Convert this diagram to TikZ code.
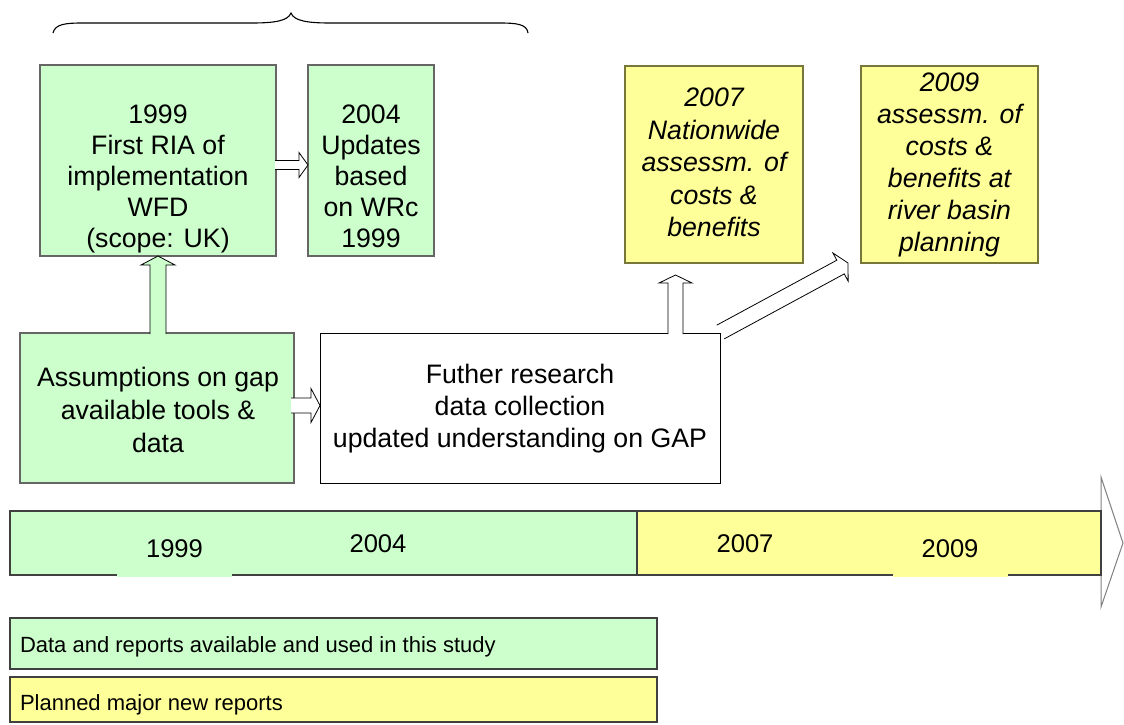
\documentclass[tikz,border=0pt]{standalone}
\usepackage{fontspec}
\setmainfont{Liberation Sans}
\usetikzlibrary{calc}

\definecolor{paleGreen}{HTML}{CCFFCC}
\definecolor{paleYellow}{HTML}{FFFF99}
\definecolor{greenEdge}{HTML}{666666}
\definecolor{yellowEdge}{HTML}{77773A}
\definecolor{barEdge}{HTML}{404040}

% Block arrow from #2 to #3: #1 = fill, #4 = shaft half width,
% #5 = head half width, #6 = head length. The base end is left open.
\newcommand\blockarrow[6]{%
  \coordinate (bahead) at ($(#3)!#6!(#2)$);
  \coordinate (bal1) at ($(#2)!#4!90:(#3)$);
  \coordinate (bar1) at ($(#2)!#4!-90:(#3)$);
  \coordinate (bal2) at ($(bahead)!#4!90:(#3)$);
  \coordinate (bar2) at ($(bahead)!#4!-90:(#3)$);
  \coordinate (bal3) at ($(bahead)!#5!90:(#3)$);
  \coordinate (bar3) at ($(bahead)!#5!-90:(#3)$);
  \fill[#1] (bal1) -- (bal2) -- (bal3) -- (#3) -- (bar3) -- (bar2) -- (bar1) -- cycle;
  \draw[arrowline] (bal1) -- (bal2) -- (bal3) -- (#3) -- (bar3) -- (bar2) -- (bar1);
}

\begin{document}
\begin{tikzpicture}[x=1pt,y=-1pt,
  every node/.style={inner sep=0pt, outer sep=0pt},
  gbox/.style={draw=greenEdge, line width=1.2pt, fill=paleGreen, anchor=north west},
  ybox/.style={draw=yellowEdge, line width=1.2pt, fill=paleYellow, anchor=north west},
  wbox/.style={draw=black, line width=0.9pt, fill=white, anchor=north west},
  barpart/.style={draw=barEdge, line width=1.2pt, anchor=north west},
  legendbox/.style={draw=barEdge, line width=1.2pt, anchor=north west},
  arrowline/.style={draw=black, line width=0.8pt, line join=miter},
  boxtext/.style={align=center, anchor=north, font=\fontsize{26.7}{31}\selectfont},
  bartext/.style={anchor=base, font=\fontsize{25.6}{30}\selectfont},
  legendtext/.style={anchor=base west, font=\fontsize{22}{26}\selectfont}]

\useasboundingbox (0,0) rectangle (1124,724);

% curly brace over the first two reports
\draw[line width=1.1pt]
  (53,33) .. controls (55,24) and (66,23) .. (82,23) -- (252,23)
  .. controls (274,23) and (288,21) .. (291,13)
  .. controls (294,21) and (308,23) .. (330,23) -- (500,23)
  .. controls (516,23) and (527,24) .. (528,33);

% report boxes
\node[gbox, minimum width=236pt, minimum height=191pt] (A) at (40,65) {};
\node[gbox, minimum width=126pt, minimum height=191pt] (B) at (308,65) {};
\node[gbox, minimum width=274pt, minimum height=150pt] (C) at (20,333) {};
\node[wbox, minimum width=400pt, minimum height=150pt] (D) at (320,333) {};
\node[ybox, minimum width=178pt, minimum height=197pt] (E) at (625,66) {};
\node[ybox, minimum width=177pt, minimum height=197pt] (F) at (861,66) {};

\node[boxtext] (Atxt) at (158,105) {1999\\First RIA of\\implementation\\WFD\\(scope: UK)};
\node[boxtext] (Btxt) at (371,105) {2004\\Updates\\based\\on WRc\\1999};
\node[boxtext, font=\fontsize{26.7}{33}\selectfont] (Ctxt) at (158,367) {Assumptions on gap\\available tools \&\\data};
\node[boxtext, font=\fontsize{26.7}{32}\selectfont] (Dtxt) at (520,364) {Futher research\\data collection\\updated understanding on GAP};
\node[boxtext, font=\fontsize{26.7}{32.5}\selectfont\itshape] (Etxt) at (714,88) {2007\\Nationwide\\assessm. of\\costs \&\\benefits};
\node[boxtext, font=\fontsize{26.7}{32}\selectfont\itshape] (Ftxt) at (949.5,73) {2009\\assessm. of\\costs \&\\benefits at\\river basin\\planning};

% block arrows between the boxes
\coordinate (ab1) at ($(A.north east)+(-1,100)$);
\coordinate (ab2) at ($(B.north west)+(0,100)$);
\blockarrow{white}{ab1}{ab2}{4.5pt}{12.5pt}{9pt}

\coordinate (ca1) at ($(C.north west)+(138,1)$);
\coordinate (ca2) at ($(A.south west)+(118,0)$);
\blockarrow{paleGreen}{ca1}{ca2}{8pt}{17pt}{9pt}

\coordinate (cd1) at ($(C.north east)+(-3,72.5)$);
\coordinate (cd2) at ($(D.north west)+(0,72.5)$);
\blockarrow{white}{cd1}{cd2}{7.5pt}{17pt}{9pt}

\coordinate (de1) at ($(D.north west)+(355.5,1)$);
\coordinate (de2) at ($(E.south west)+(50.5,12)$);
\blockarrow{white}{de1}{de2}{7.5pt}{16.5pt}{8pt}

\coordinate (df1) at ($(D.north east)+(0.5,-1)$);
\coordinate (df2) at ($(F.south west)+(-13,0)$);
\blockarrow{white}{df1}{df2}{7.8pt}{16pt}{8.5pt}

% time line
\draw[draw=gray, line width=1pt, fill=white] (1101,477) -- (1123,543) -- (1101,607) -- cycle;
\node[barpart, fill=paleGreen, minimum width=627pt, minimum height=64pt] (bar1) at (10,511) {};
\node[barpart, fill=paleYellow, minimum width=464pt, minimum height=64pt] (bar2) at (637,511) {};
\node[bartext, fill=paleGreen, minimum width=115pt, text height=24pt, text depth=20pt] (y1999) at (174.5,557) {1999};
\node[bartext] (y2004) at (378,552) {2004};
\node[bartext] (y2007) at (745,552) {2007};
\node[bartext, fill=paleYellow, minimum width=115pt, text height=24pt, text depth=20pt] (y2009) at (950,557) {2009};

% legend
\node[legendbox, fill=paleGreen, minimum width=647pt, minimum height=51pt] (lg1) at (10,618) {};
\node[legendbox, fill=paleYellow, minimum width=647pt, minimum height=45pt] (lg2) at (10,677) {};
\node[legendtext] (lg1txt) at (20,652) {Data and reports available and used in this study};
\node[legendtext] (lg2txt) at (20,710) {Planned major new reports};
\end{tikzpicture}
\end{document}
